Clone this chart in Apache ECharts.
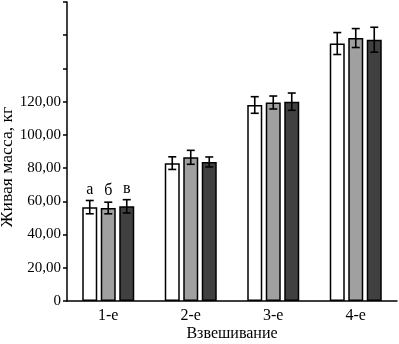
<!DOCTYPE html>
<html>
<head>
<meta charset="utf-8">
<script src="https://cdn.jsdelivr.net/npm/echarts@6/dist/echarts.min.js"></script>
<style>html,body{margin:0;padding:0;background:#fff}#c{width:399px;height:344px}</style>
</head>
<body>
<div id="c"></div>
<script>
var categories = ['1-е', '2-е', '3-е', '4-е'];
var seriesA = [56.5, 83, 118, 155];
var seriesB = [56, 86.5, 119.5, 158.3];
var seriesC = [57, 83.7, 120, 157.3];
var errA = [4, 3.8, 5, 6.6];
var errB = [3.5, 4.2, 3.9, 5.7];
var errC = [4, 3, 5.2, 7.5];
var letters = ['а', 'б', 'в'];
var yTicks = [0, 20, 40, 60, 80, 100, 120, 140, 160, 180];
var xTitle = 'Взвешивание';
var yTitle = 'Живая масса, кг';

var FONT = '"Liberation Serif", "DejaVu Serif", serif';
var chart = echarts.init(document.getElementById('c'), null, {renderer: 'canvas'});
var vals = [seriesA, seriesB, seriesC];
var errs = [errA, errB, errC];
var colors = ['#ffffff', '#a0a0a0', '#404040'];
var BW = 15, GAP = 3.5;

function errSeries(k) {
  var data = categories.map(function (c, i) { return [i, vals[k][i] - errs[k][i], vals[k][i] + errs[k][i]]; });
  return {
    type: 'custom',
    z: 10,
    data: data,
    renderItem: function (params, api) {
      var i = api.value(0);
      var off = (k - 1) * (BW + GAP);
      var lo = api.coord([i, api.value(1)]);
      var hi = api.coord([i, api.value(2)]);
      var x = lo[0] + off;
      var cw = 4;
      var st = {stroke: '#000', lineWidth: 1.6};
      var children = [
        {type: 'line', shape: {x1: x, y1: lo[1], x2: x, y2: hi[1]}, style: st},
        {type: 'line', shape: {x1: x - cw, y1: lo[1], x2: x + cw, y2: lo[1]}, style: st},
        {type: 'line', shape: {x1: x - cw, y1: hi[1], x2: x + cw, y2: hi[1]}, style: st}
      ];
      if (i === 0) {
        children.push({type: 'text', x: x, y: hi[1] - 3, style: {text: letters[k], x: 0, y: 0, textAlign: 'center', textVerticalAlign: 'bottom', font: '16px ' + FONT, fill: '#000'}});
      }
      return {type: 'group', children: children};
    }
  };
}

var series = [];
for (var k = 0; k < 3; k++) {
  series.push({
    type: 'bar',
    data: vals[k],
    barWidth: BW,
    barGap: (GAP / BW * 100) + '%',
    itemStyle: {color: colors[k], borderColor: '#000', borderWidth: 1.5},
    emphasis: {disabled: true}
  });
}
for (var k2 = 0; k2 < 3; k2++) series.push(errSeries(k2));

chart.setOption({
  animation: false,
  backgroundColor: '#fff',
  grid: {left: 67, right: 2, top: 2, bottom: 43, containLabel: false, outerBoundsMode: 'none'},
  graphic: [
    {type: 'text', x: 232, y: 334,
     style: {text: xTitle, x: 0, y: 0, textAlign: 'center', textVerticalAlign: 'middle', font: '16px ' + FONT, fill: '#000'}},
    {type: 'text', x: 8, y: 167, rotation: Math.PI / 2, scaleX: 1.1,
     style: {text: yTitle, x: 0, y: 0, textAlign: 'center', textVerticalAlign: 'middle', font: '16px ' + FONT, fill: '#000'}}
  ],
  xAxis: {
    type: 'category',
    data: categories,
    axisLine: {lineStyle: {color: '#000', width: 1.5}},
    axisTick: {show: false},
    axisLabel: {fontFamily: FONT, fontSize: 16, color: '#000', margin: 7}
  },
  yAxis: {
    type: 'value',
    min: 0, max: 180, interval: 20,
    axisLine: {show: true, lineStyle: {color: '#000', width: 1.5}},
    axisTick: {show: true, length: 4, lineStyle: {color: '#000', width: 1.5}},
    splitLine: {show: false},
    axisLabel: {
      fontFamily: FONT, fontSize: 15, color: '#000', margin: 6,
      formatter: function (v) {
        if (yTicks.indexOf(v) < 0 || v > 120) return '';
        return v === 0 ? '0' : v.toFixed(2).replace('.', ',');
      }
    }
  },
  series: series
});
</script>
</body>
</html>
